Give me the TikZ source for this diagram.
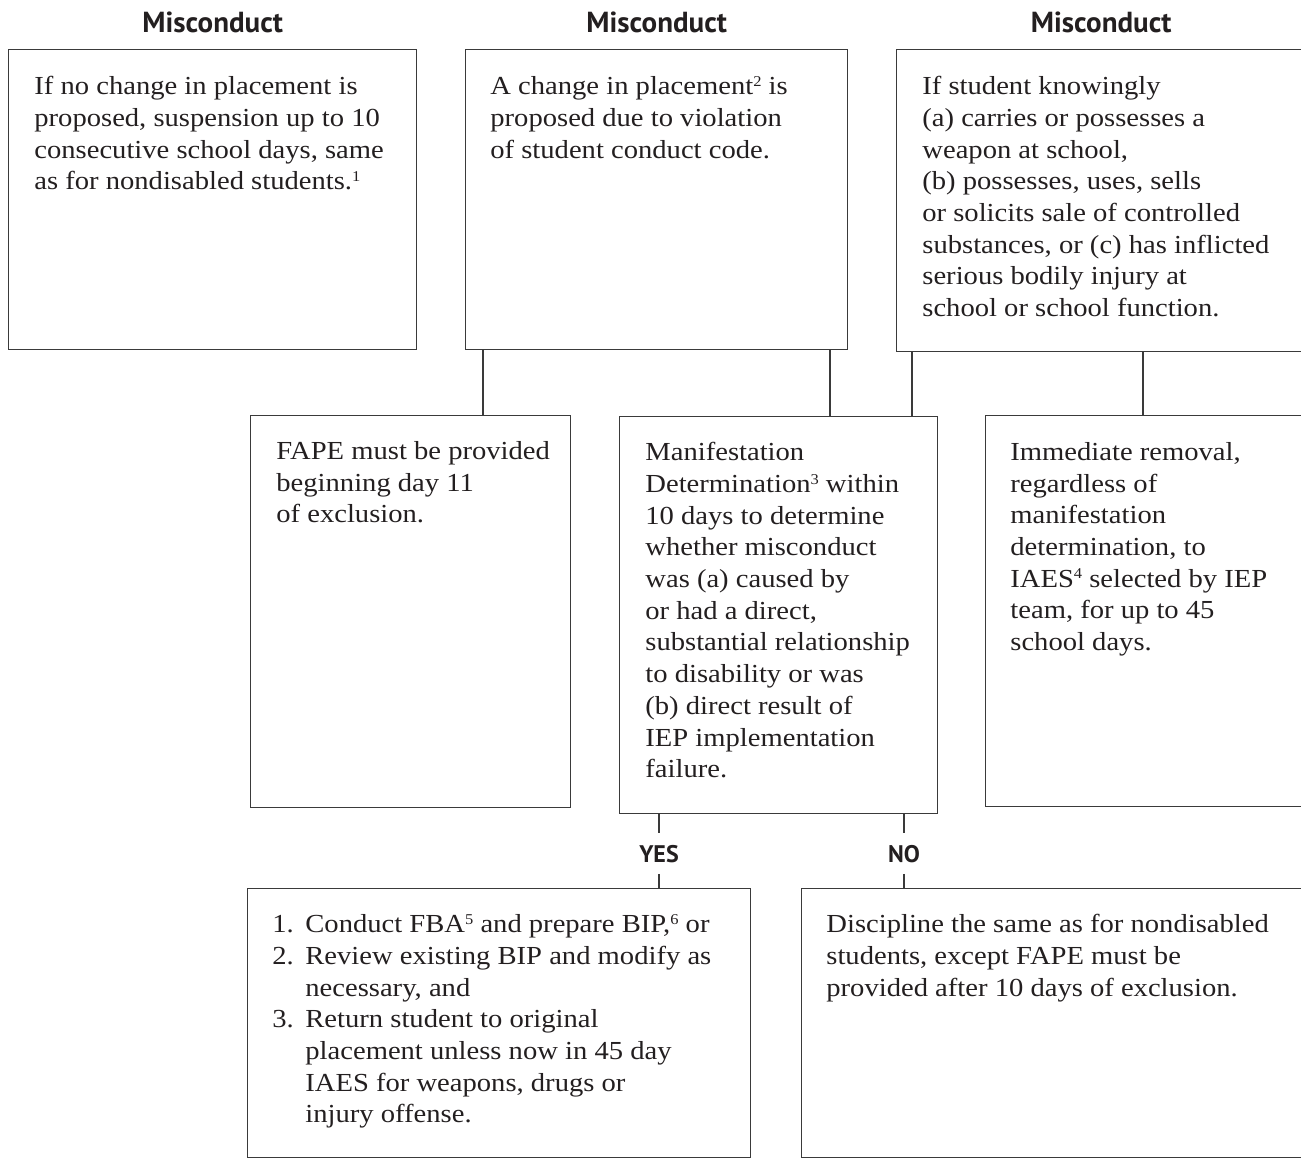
\documentclass[tikz,border=0pt]{standalone}
\usepackage{fontspec}
\setmainfont[FakeStretch=1.1]{Liberation Serif}
\newfontfamily\headfont{PT Sans}
\usepackage{tikz}
\usetikzlibrary{positioning}
\usetikzlibrary{calc}

\definecolor{inkline}{HTML}{3A3A3A}
\definecolor{inktext}{HTML}{231F20}

\newcommand{\itemno}[1]{\makebox[16.5pt][l]{#1}}
\newcommand{\itemgap}{\hspace*{16.5pt}}
\newcommand{\fnmark}[1]{\raisebox{4.2pt}{\fontsize{7.5}{7.5}\selectfont #1}}

\tikzset{
  box/.style={draw=inkline, line width=0.65pt, anchor=north west, inner sep=0pt},
  boxdim/.style 2 args={minimum width=#1*0.5pt, minimum height=#2*0.5pt},
  boxtext/.style={anchor=north west, align=left, inner sep=0pt, text=inktext,
    font=\fontsize{13}{15.85}\selectfont,
    execute at begin node={\rule{0pt}{11pt}}},
  heading/.style={anchor=base, inner sep=0pt, text=inktext,
    font=\headfont\bfseries\fontsize{14.5}{17}\selectfont},
  answer/.style={anchor=base, text=inktext, inner xsep=2pt, inner ysep=5.5pt,
    font=\headfont\bfseries\fontsize{12}{14}\selectfont},
  link/.style={draw=inkline, line width=0.65pt}
}

\begin{document}
\begin{tikzpicture}[x=0.5pt, y=-0.5pt]
  \useasboundingbox (0,0) rectangle (1301,1158);
  \clip (0,0) rectangle (1301,1158);

  % top row
  \node[box, boxdim={408}{300}] (misA) at (8,49) {};
  \node[box, boxdim={382}{300}] (misB) at (465,49) {};
  \node[box, boxdim={409}{302}] (misC) at (896,49) {};

  \node[heading] (headA) at ($(misA.north)+(0,-17)$) {Misconduct};
  \node[heading] (headB) at ($(misB.north)+(0,-17)$) {Misconduct};
  \node[heading] (headC) at ($(misC.north)+(0,-17)$) {Misconduct};

  \node[boxtext] (textA) at ($(misA.north west)+(26,27)$)
    {If no change in placement is\\proposed, suspension up to 10\\consecutive school days, same\\as for nondisabled students.\fnmark{1}};
  \node[boxtext] (textB) at ($(misB.north west)+(25,27)$)
    {A change in placement\fnmark{2} is\\proposed due to violation\\of student conduct code.};
  \node[boxtext] (textC) at ($(misC.north west)+(26,27)$)
    {If student knowingly\\(a) carries or possesses a\\weapon at school,\\(b) possesses, uses, sells\\or solicits sale of controlled\\substances, or (c) has inflicted\\serious bodily injury at\\school or school function.};

  % middle row
  \node[box, boxdim={320}{392}] (fape) at (250,415) {};
  \node[box, boxdim={318}{397}] (manif) at (619,416) {};
  \node[box, boxdim={335}{391}] (removal) at (985,415) {};

  \node[boxtext] (fapetext) at ($(fape.north west)+(26,26)$)
    {FAPE must be provided\\beginning day 11\\of exclusion.};
  \node[boxtext] (maniftext) at ($(manif.north west)+(26,26)$)
    {Manifestation\\Determination\fnmark{3} within\\10 days to determine\\whether misconduct\\was (a) caused by\\or had a direct,\\substantial relationship\\to disability or was\\(b) direct result of\\IEP implementation\\failure.};
  \node[boxtext] (removaltext) at ($(removal.north west)+(25,27)$)
    {Immediate removal,\\regardless of\\manifestation\\determination, to\\IAES\fnmark{4} selected by IEP\\team, for up to 45\\school days.};

  \draw[link] ($(misB.south west)+(18,0)$) coordinate (linkA) -- (linkA |- fape.north);
  \draw[link] ($(misB.south west)+(365,0)$) coordinate (linkB) -- (linkB |- manif.north);
  \draw[link] ($(misC.south west)+(16,0)$) coordinate (linkC) -- (linkC |- manif.north);
  \draw[link] ($(misC.south west)+(247,0)$) coordinate (linkD) -- (linkD |- removal.north);

  % bottom row
  \node[box, boxdim={503}{269}] (yesbox) at (247,888) {};
  \node[box, boxdim={519}{269}] (nobox) at (801,888) {};

  \node[boxtext] (yestext) at ($(yesbox.north west)+(25,26)$)
    {\itemno{1.}Conduct FBA\fnmark{5} and prepare BIP,\fnmark{6} or\\\itemno{2.}Review existing BIP and modify as\\\itemgap necessary, and\\\itemno{3.}Return student to original\\\itemgap placement unless now in 45 day\\\itemgap IAES for weapons, drugs or\\\itemgap injury offense.};
  \node[boxtext] (notext) at ($(nobox.north west)+(25,26)$)
    {Discipline the same as for nondisabled\\students, except FAPE must be\\provided after 10 days of exclusion.};

  \node[answer] (yes) at (659,862) {YES};
  \node[answer] (no) at (904,862) {NO};

  \draw[link] (yes.north |- manif.south) -- (yes);
  \draw[link] (yes) -- (yes |- yesbox.north);
  \draw[link] (no.north |- manif.south) -- (no);
  \draw[link] (no) -- (no |- nobox.north);
\end{tikzpicture}
\end{document}
